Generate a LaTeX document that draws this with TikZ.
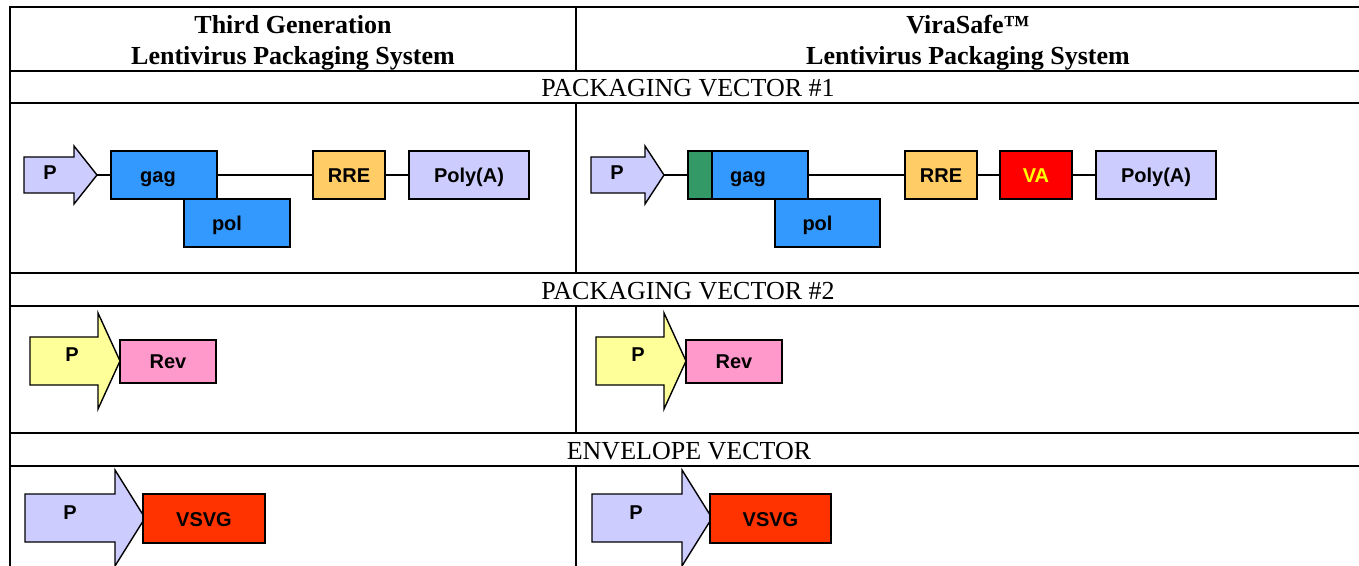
\documentclass[tikz,border=0pt]{standalone}
\usepackage{fontspec}
\setmainfont{Liberation Serif}
\newfontfamily\genefont{Liberation Sans}
\definecolor{plav}{HTML}{CCCCFF}
\definecolor{pyel}{HTML}{FFFF99}
\definecolor{gblue}{HTML}{3399FF}
\definecolor{gorange}{HTML}{FFCC66}
\definecolor{ggreen}{HTML}{339966}
\definecolor{gred}{HTML}{FF0000}
\definecolor{gpink}{HTML}{FF99CC}
\definecolor{gvsvg}{HTML}{FF3300}
\definecolor{vatext}{HTML}{FFFF00}
% promoter arrow: name, fill, left x, head x, tip x, centre y, body half, head half
\newcommand{\promoter}[8]{%
  \draw[prom, fill=#2] (#3,#6-#7) -- (#4,#6-#7) -- (#4,#6-#8) -- (#5,#6)
    -- (#4,#6+#8) -- (#4,#6+#7) -- (#3,#6+#7) -- cycle;
  \coordinate (#1) at (#5,#6);}
\begin{document}
\begin{tikzpicture}[x=0.5pt,y=-0.5pt,line join=miter]
    \tikzset{rule/.style={line width=1.3pt, line cap=rect},
      prom/.style={line width=0.7pt},
      link/.style={line width=0.7pt},
      gene/.style={draw, line width=0.7pt, minimum height=24pt, inner sep=0pt,
        font={\genefont\fontsize{10}{12}\selectfont\bfseries},
        text height=7.5pt, text depth=0pt},
      ptext/.style={font={\genefont\fontsize{10}{12}\selectfont\bfseries}},
      head/.style={align=center, font={\fontsize{13}{15.5}\selectfont\bfseries}},
      sect/.style={font={\fontsize{13}{15.5}\selectfont}}}
    \useasboundingbox (0,0) rectangle (1359,566);
    % table
    \foreach \y in {7,71,103,273,306,433,466}
    \draw[rule] (10,\y) -- (1380,\y);
    \draw[rule] (10,7) -- (10,600);
    \foreach \a/\b in {7/71,103/273,306/433,466/600}
    \draw[rule] (576,\a) -- (576,\b);
    \node[head] (hdL) at (293,43) {Third Generation\\Lentivirus Packaging System};
    \node[head] (hdR) at (968,43) {ViraSafe™\\Lentivirus Packaging System};
    \node[sect] (secA) at (688,88) {PACKAGING VECTOR \#1};
    \node[sect] (secB) at (688,291) {PACKAGING VECTOR \#2};
    \node[sect] (secC) at (689,451) {ENVELOPE VECTOR};
    % packaging vector 1
    \promoter{tipL1}{plav}{24}{74}{97}{175}{18}{29}
    \promoter{tipR1}{plav}{591}{645}{664}{175}{18}{29}
    \node[ptext] (pL1) at (50,173) {P};
    \node[ptext] (pR1) at (617,173) {P};
    \node[gene, fill=gblue, minimum width=53pt] (gagL) at (164,175) {\hspace*{-6pt}gag};
    \node[gene, fill=gblue, minimum width=53pt] (polL) at (237,223) {\hspace*{-10pt}pol};
    \node[gene, fill=gorange, minimum width=36pt] (rreL) at (349,175) {RRE};
    \node[gene, fill=plav, minimum width=60pt] (polyL) at (469,175) {Poly(A)};
    \node[gene, fill=gblue, minimum width=60pt] (gagR) at (748,175) {gag};
    \node[gene, fill=ggreen, minimum width=12pt] (greenR) at (700,175) {};
    \node[gene, fill=gblue, minimum width=52.5pt] (polR) at (827.5,223) {\hspace*{-10pt}pol};
    \node[gene, fill=gorange, minimum width=36pt] (rreR) at (941,175) {RRE};
    \node[gene, fill=gred, text=vatext, minimum width=36pt] (vaR) at (1036,175) {VA};
    \node[gene, fill=plav, minimum width=60pt] (polyR) at (1156,175) {Poly(A)};
    \draw[link] (tipL1) -- (gagL);
    \draw[link] (gagL) -- (rreL);
    \draw[link] (rreL) -- (polyL);
    \draw[link] (tipR1) -- (greenR);
    \draw[link] (gagR) -- (rreR);
    \draw[link] (rreR) -- (vaR);
    \draw[link] (vaR) -- (polyR);
    % packaging vector 2
    \promoter{tipL2}{pyel}{30}{98}{120}{361}{24}{48}
    \promoter{tipR2}{pyel}{596}{664}{686}{361}{24}{48}
    \node[ptext] (pL2) at (72,355) {P};
    \node[ptext] (pR2) at (638,355) {P};
    \node[gene, fill=gpink, minimum width=48pt, minimum height=21.5pt] (revL) at (168,361.5) {Rev};
    \node[gene, fill=gpink, minimum width=48pt, minimum height=21.5pt] (revR) at (734,361.5) {Rev};
    % envelope vector
    \promoter{tipL3}{plav}{25}{115}{145}{518}{24}{48}
    \promoter{tipR3}{plav}{592}{682}{712}{518}{24}{48}
    \node[ptext] (pL3) at (70,513) {P};
    \node[ptext] (pR3) at (636,513) {P};
    \node[gene, fill=gvsvg, minimum width=61pt, minimum height=24.5pt] (vsvgL) at (204,518.5) {VSVG};
    \node[gene, fill=gvsvg, minimum width=60.5pt, minimum height=24.5pt] (vsvgR) at (770.5,518.5) {VSVG};
\end{tikzpicture}
\end{document}
